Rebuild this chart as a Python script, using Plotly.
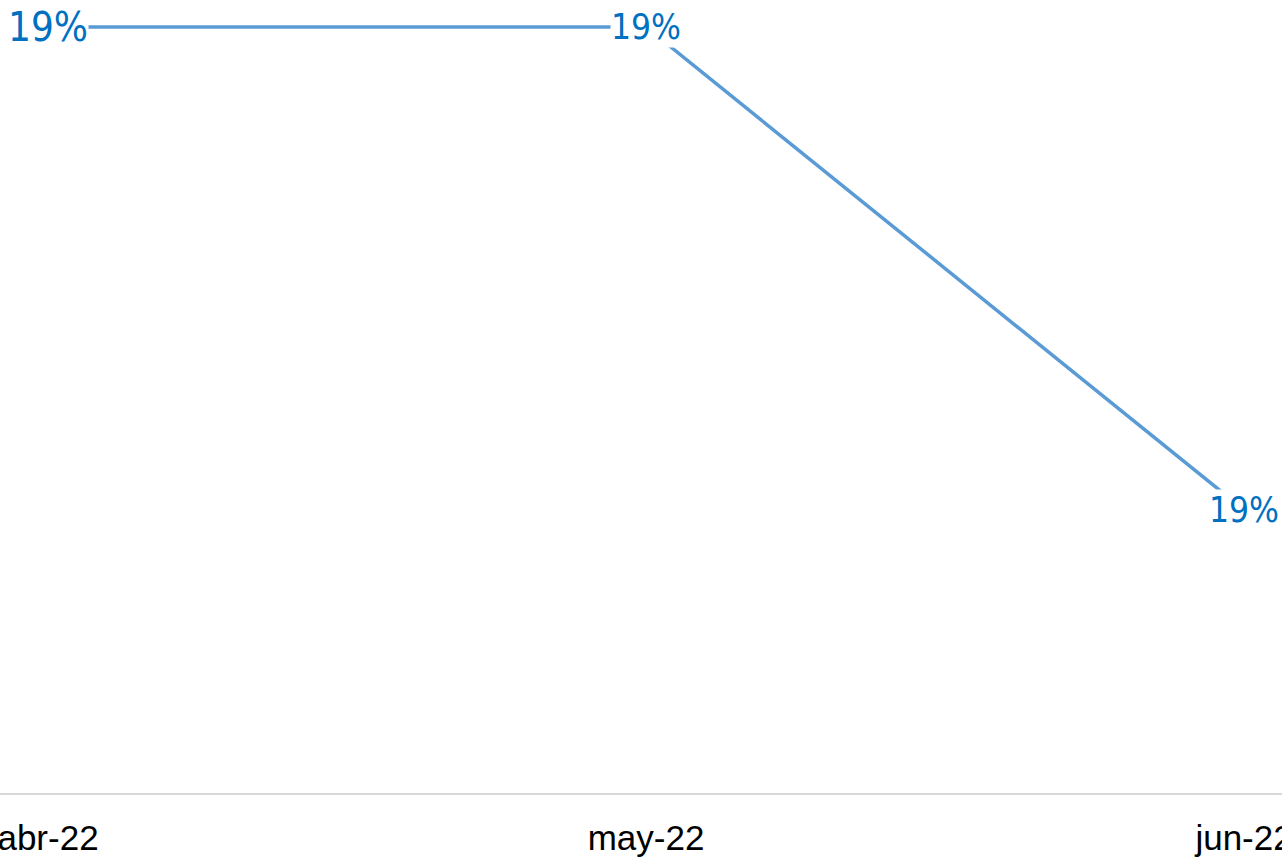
import plotly.graph_objects as go

months = ["abr-22", "may-22", "jun-22"]
values = [0.194, 0.194, 0.188]
labels = ["19%", "19%", "19%"]
label_sizes = [40, 35, 35]

fig = go.Figure()
fig.add_trace(go.Scatter(
    x=months, y=values, mode="lines",
    line=dict(color="#5B9BD5", width=3.5),
    hoverinfo="skip", showlegend=False,
))

for m, v, t, s in zip(months, values, labels, label_sizes):
    fig.add_annotation(
        x=m, y=v, text=t, showarrow=False,
        xanchor="center", yanchor="middle",
        bgcolor="white", borderpad=0,
        font=dict(family="DejaVu Sans Condensed, DejaVu Sans", size=s, color="#0070C0"),
    )

fig.update_layout(
    width=1282, height=858,
    margin=dict(l=0, r=0, t=0, b=65),
    paper_bgcolor="white", plot_bgcolor="white",
    xaxis=dict(
        type="category", range=[-0.0803, 2.0635],
        showgrid=False, zeroline=False,
        showline=True, linecolor="#D9D9D9", linewidth=2,
        ticks="", automargin=False, ticklabelstandoff=13,
        tickfont=dict(family="Liberation Sans, Arial", size=35, color="#000000"),
    ),
    yaxis=dict(
        range=[0.184484, 0.194335],
        visible=False, showgrid=False, zeroline=False,
    ),
)

fig.write_html(
    "out.html",
    config={"displayModeBar": False},
    post_script="document.body.style.margin='0px'; document.body.style.overflow='hidden';",
)
